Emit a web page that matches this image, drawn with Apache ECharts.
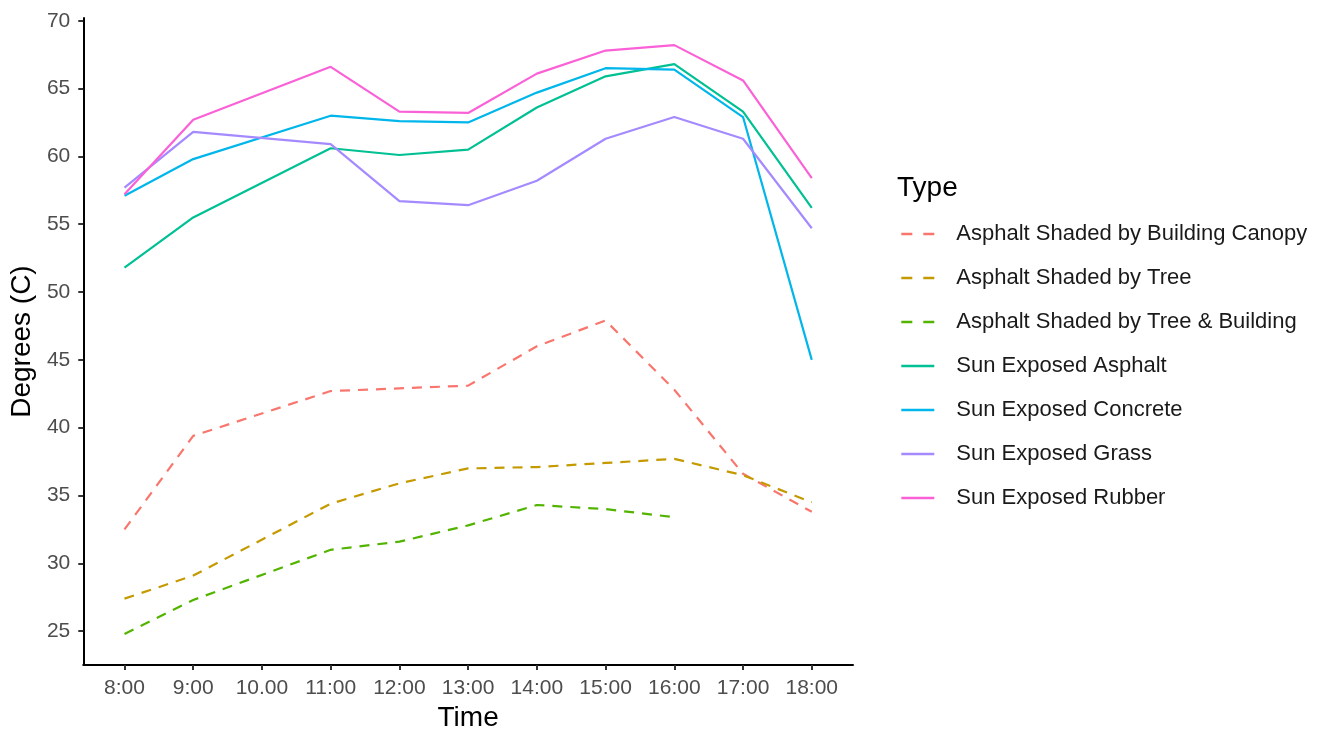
<!DOCTYPE html>
<html>
<head>
<meta charset="utf-8">
<script src="https://cdn.jsdelivr.net/npm/echarts@6/dist/echarts.min.js"></script>
<style>html,body{margin:0;padding:0;background:#fff}#c{width:1327px;height:737px}</style>
</head>
<body>
<div id="c"></div>
<script>
const categories = ["8:00","9:00","10.00","11:00","12:00","13:00","14:00","15:00","16:00","17:00","18:00"];
const seriesNames = ["Asphalt Shaded by Building Canopy","Asphalt Shaded by Tree","Asphalt Shaded by Tree & Building","Sun Exposed Asphalt","Sun Exposed Concrete","Sun Exposed Grass","Sun Exposed Rubber"];
const canopy   = [32.5, 39.4, null, 42.7, 42.9, 43.1, 46.0, 47.9, 42.8, 36.6, 33.8];
const tree     = [27.4, 29.1, null, 34.4, 35.9, 37.0, 37.1, 37.4, 37.7, 36.5, 34.5];
const treeBldg = [24.8, 27.3, null, 31.0, 31.6, 32.8, 34.3, 34.0, 33.4, null, null];
const sunAsphalt  = [51.8, 55.5, null, 60.6, 60.1, 60.5, 63.6, 65.9, 66.8, 63.3, 56.2];
const sunConcrete = [57.1, 59.8, null, 63.0, 62.6, 62.5, 64.7, 66.5, 66.4, 62.9, 45.0];
const sunGrass    = [57.7, 61.8, null, 60.9, 56.7, 56.4, 58.2, 61.3, 62.9, 61.3, 54.7];
const sunRubber   = [57.2, 62.7, null, 66.6, 63.3, 63.2, 66.1, 67.8, 68.2, 65.6, 58.4];
const yTicks = [25, 30, 35, 40, 45, 50, 55, 60, 65, 70];

const allData = [canopy, tree, treeBldg, sunAsphalt, sunConcrete, sunGrass, sunRubber];
const colors = ["#F8766D","#C49A00","#53B400","#00C094","#00B6EB","#A58AFF","#FB61D7"];
const dashed = [true, true, true, false, false, false, false];
const xIdx = categories.map((c, i) => i);
const FONT = 'Liberation Sans, Arial, sans-serif';

const series = seriesNames.map((name, k) => ({
  name: name,
  type: 'line',
  data: allData[k].map((v, i) => [i, v]),
  connectNulls: true,
  symbol: 'none',
  color: colors[k],
  lineStyle: { width: 2.2, color: colors[k], type: dashed[k] ? [10, 8] : 'solid' },
  emphasis: { disabled: true },
  animation: false
}));

const legendData = seriesNames.map((name, k) => ({
  name: name,
  lineStyle: { width: 2.6, type: dashed[k] ? [11, 11] : 'solid' }
}));

const chart = echarts.init(document.getElementById('c'), null, { renderer: 'canvas' });
chart.setOption({
  backgroundColor: '#fff',
  animation: false,
  textStyle: { fontFamily: FONT },
  title: {
    text: 'Type', left: 892, top: 169,
    textStyle: { fontSize: 28, fontWeight: 'normal', color: '#000', fontFamily: FONT }
  },
  legend: {
    orient: 'vertical', left: 895, top: 218,
    itemWidth: 33, itemHeight: 22, itemGap: 22,
    itemStyle: { opacity: 0 },
    data: legendData,
    textStyle: { fontSize: 22, lineHeight: 22, color: '#1a1a1a', padding: [0, 0, 0, 17], fontFamily: FONT }
  },
  grid: { left: 82, right: 474, top: 18, bottom: 65, containLabel: false },
  xAxis: {
    type: 'value', min: -0.6, max: 10.6,
    name: 'Time', nameLocation: 'middle', nameGap: 38,
    nameTextStyle: { fontSize: 28, color: '#000', fontFamily: FONT },
    axisLine: { show: true, onZero: false, lineStyle: { color: '#000', width: 2 } },
    axisTick: { show: true, length: 5, lineStyle: { color: '#333', width: 2 }, customValues: xIdx },
    axisLabel: { customValues: xIdx, fontSize: 21, color: '#4D4D4D', margin: 13, fontFamily: FONT,
      formatter: v => categories[Math.round(v)] },
    splitLine: { show: false }
  },
  yAxis: {
    type: 'value', min: 22.5, max: 70.2,
    name: 'Degrees (C)', nameLocation: 'middle', nameGap: 37,
    nameTextStyle: { fontSize: 28, color: '#000', fontFamily: FONT },
    axisLine: { show: true, onZero: false, lineStyle: { color: '#000', width: 2 } },
    axisTick: { show: true, length: 5, lineStyle: { color: '#333', width: 2 }, customValues: yTicks },
    axisLabel: { customValues: yTicks, fontSize: 21, color: '#4D4D4D', margin: 13, fontFamily: FONT },
    splitLine: { show: false }
  },
  series: series
});
</script>
</body>
</html>
